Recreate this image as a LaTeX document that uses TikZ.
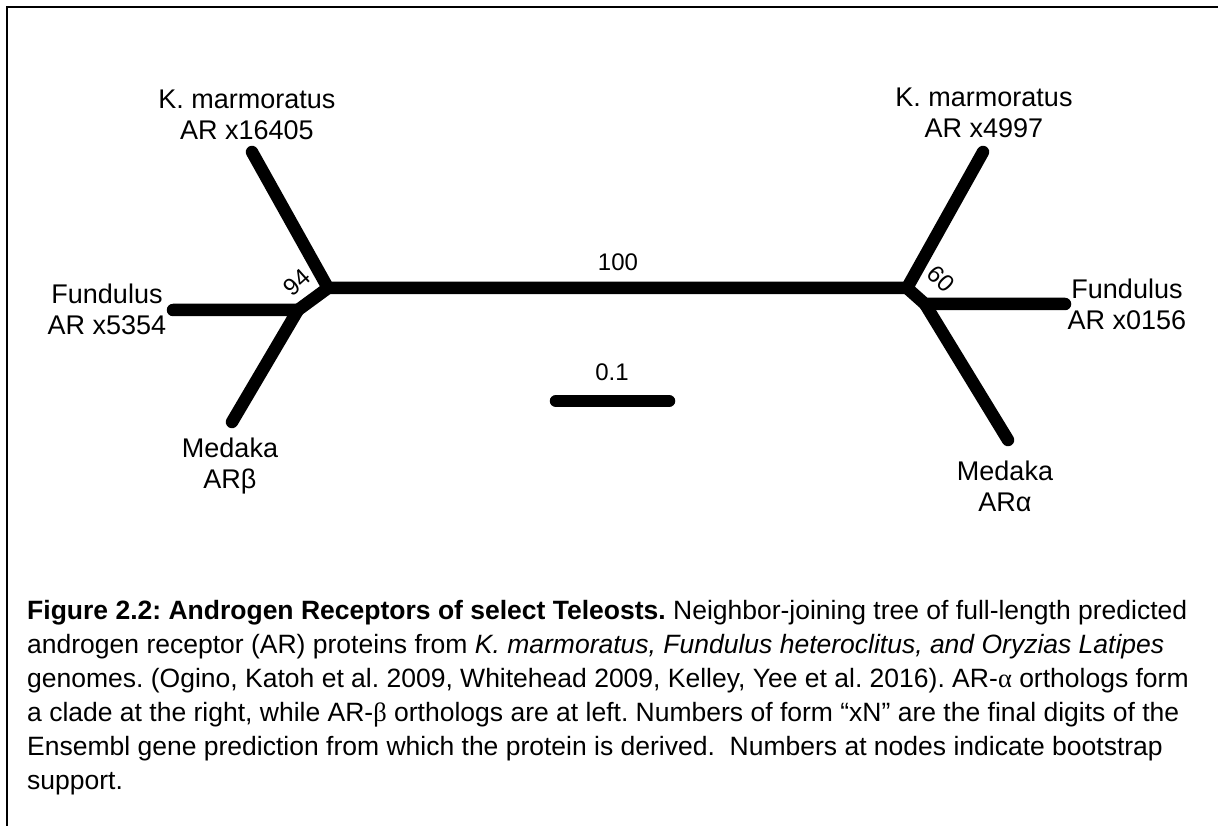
\documentclass[tikz,border=0pt]{standalone}
\usepackage{fontspec}
\setmainfont{Liberation Sans}
\newfontfamily\greekserif{Liberation Serif}
\frenchspacing
\begin{document}
\begin{tikzpicture}[x=1pt,y=-1pt,
  branch/.style={line width=12.5pt, line cap=round, line join=miter},
  taxon/.style={align=center, font=\fontsize{27}{31}\selectfont, inner sep=0pt},
  support/.style={font=\fontsize{24}{26}\selectfont, inner sep=0pt},
  capline/.style={anchor=base west, inner sep=0pt, font=\fontsize{26.5}{30}\selectfont}]
\useasboundingbox (0,0) rectangle (1218,826);
% frame
\draw[line width=2.6pt] (1225,7) -- (7,7) -- (7,835);

% tree vertices
\coordinate (kL)  at (252,152);
\coordinate (nL)  at (328,288);
\coordinate (nL2) at (298,310);
\coordinate (fL)  at (173,310);
\coordinate (mL)  at (232,422);
\coordinate (nR)  at (907,288);
\coordinate (nR2) at (925,304);
\coordinate (kR)  at (983,152);
\coordinate (fR)  at (1065,304);
\coordinate (mR)  at (1008,440);
\coordinate (s0)  at (556,401);
\coordinate (s1)  at (669,401);

% branches
\draw[branch] (kL) -- (nL) -- (nR) -- (kR);
\draw[branch] (fL) -- (nL2) -- (mL);
\draw[branch] (nL) -- (nL2);
\draw[branch] (nR) -- (nR2) -- (fR);
\draw[branch] (nR2) -- (mR);
% scale bar
\draw[branch] (s0) -- (s1);

% taxon labels
\node[taxon] (tkL) at (247,115) {K. marmoratus\\AR x16405};
\node[taxon] (tfL) at (107,309) {Fundulus\\AR x5354};
\node[taxon] (tmL) at (230,466) {Medaka\\ARβ};
\node[taxon] (tkR) at (984,113) {K. marmoratus\\AR x4997};
\node[taxon] (tfR) at (1127,304) {Fundulus\\AR x0156};
\node[taxon] (tmR) at (1005,486) {Medaka\\ARα};

% support values and scale
\node[support, rotate=42] (b94) at (297,282) {94};
\node[support, rotate=-45] (b60) at (941,279) {60};
\node[support] (b100) at (618,262) {100};
\node[support] (sc) at (612,372) {0.1};

% caption
\node[capline] (c1) at (27,619) {\textbf{Figure 2.2: Androgen Receptors of select Teleosts.} Neighbor-joining tree of full-length predicted};
\node[capline] (c2) at (27,653) {androgen receptor (AR) proteins from \textit{K. marmoratus, Fundulus heteroclitus, and Oryzias Latipes}};
\node[capline] (c3) at (27,687) {genomes. (Ogino, Katoh et al. 2009, Whitehead 2009, Kelley, Yee et al. 2016). AR-{\greekserif α} orthologs form};
\node[capline] (c4) at (27,721) {a clade at the right, while AR-{\greekserif β} orthologs are at left. Numbers of form “xN” are the final digits of the};
\node[capline] (c5) at (27,755) {Ensembl gene prediction from which the protein is derived.\ \ Numbers at nodes indicate bootstrap};
\node[capline] (c6) at (27,789) {support.};
\end{tikzpicture}
\end{document}
